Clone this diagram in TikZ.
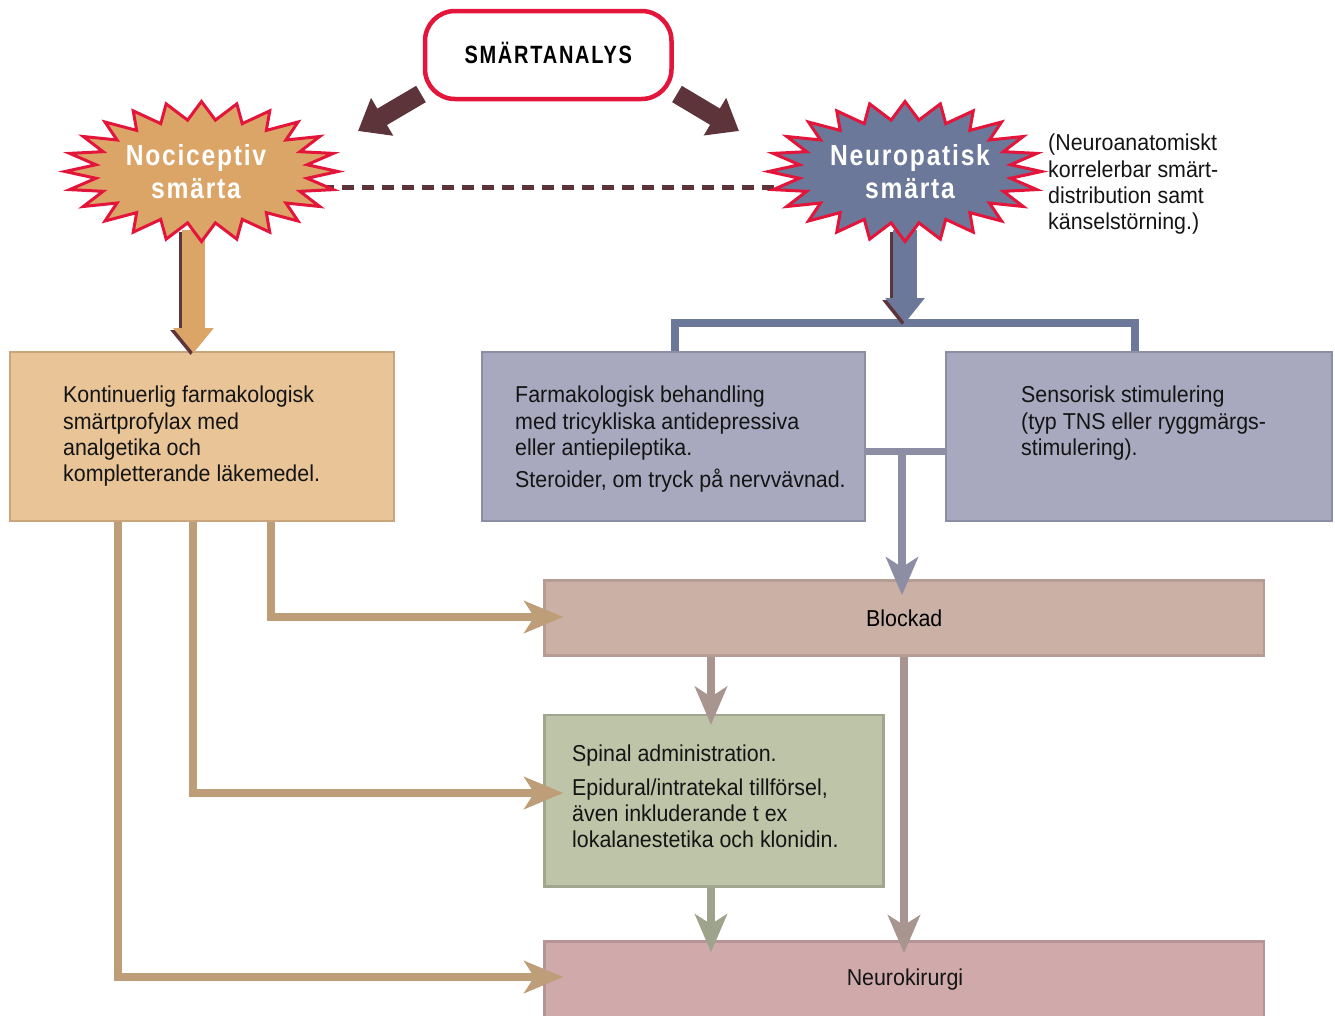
\documentclass[tikz,border=0pt]{standalone}
\usepackage{fontspec}
\setmainfont{Liberation Sans}[FakeStretch=0.93]
\newfontfamily\titlefont{Liberation Sans}[FakeStretch=0.8,LetterSpace=7]
\newfontfamily\starfont{Liberation Sans}[FakeStretch=0.85,LetterSpace=6]
\usetikzlibrary{arrows.meta,calc}
\definecolor{myred}{HTML}{E3153B}
\definecolor{darkbrown}{HTML}{5C343A}
\definecolor{nocifill}{HTML}{DCA568}
\definecolor{neurofill}{HTML}{6B7899}
\definecolor{orfill}{HTML}{E8C496}
\definecolor{ordraw}{HTML}{C9A57C}
\definecolor{blfill}{HTML}{A8A9BE}
\definecolor{bldraw}{HTML}{8C8EA6}
\definecolor{bkfill}{HTML}{CBB0A6}
\definecolor{bkdraw}{HTML}{B59D96}
\definecolor{spfill}{HTML}{BEC4A8}
\definecolor{spdraw}{HTML}{A2A68E}
\definecolor{nkfill}{HTML}{D0AAAA}
\definecolor{nkdraw}{HTML}{B59495}
\definecolor{orconn}{HTML}{BE9E78}
\definecolor{bkconn}{HTML}{A8958F}
\definecolor{spconn}{HTML}{9EA38B}
\definecolor{blconn}{HTML}{8D8EA3}
\newcommand\burstshape[5]{%
  \filldraw[fill=#5, draw=myred, line width=3pt, line join=miter]
    ({#1+#3},{#2}) \foreach \k in {1,...,47}{
      -- ({#1+#3*(1-0.22*mod(\k,2))*cos(\k*7.5)},{#2+#4*(1-0.26*mod(\k,2))*sin(\k*7.5)}) } -- cycle;}
\begin{document}
\begin{tikzpicture}[x=1pt,y=-1pt,
  boxstyle/.style={draw, line width=2.5pt, inner sep=0pt},
  bodytext/.style={font=\fontsize{23}{26.2}\selectfont, align=left, inner sep=0pt, text=black!92},
  startext/.style={font=\starfont\bfseries\fontsize{29}{33.5}\selectfont, align=center, inner sep=0pt, text=white, anchor=north},
  conn/.style={line width=7.5pt, -{Stealth[length=39pt,width=32pt,inset=10pt]}},
  vconn/.style={line width=8pt, -{Stealth[length=38pt,width=32pt,inset=10pt]}},
  fatarrow/.style={darkbrown, line width=19pt, -{Triangle[length=28pt,width=42pt]}}
]
\useasboundingbox (0,0) rectangle (1335,1015);

% boxes
\node[boxstyle, fill=orfill, draw=ordraw, minimum width=384pt, minimum height=169pt] (orange) at (202,436.5) {};
\node[boxstyle, fill=blfill, draw=bldraw, minimum width=383pt, minimum height=169pt] (blue1) at (673.5,436.5) {};
\node[boxstyle, fill=blfill, draw=bldraw, minimum width=386pt, minimum height=169pt] (blue2) at (1139,436.5) {};
\node[boxstyle, fill=bkfill, draw=bkdraw, minimum width=719.5pt, minimum height=75pt,
      font=\fontsize{23}{26.2}\selectfont, text height=16.5pt, text depth=0pt] (blockad) at (904.25,618) {Blockad};
\node[boxstyle, fill=spfill, draw=spdraw, minimum width=339pt, minimum height=171.5pt] (spinal) at (714,800.75) {};
\node[boxstyle, fill=nkfill, draw=nkdraw, minimum width=719.5pt, minimum height=93.5pt] (neurok) at (904.25,988.25) {};

% box texts
\node[bodytext, anchor=north west] (orT) at (63,386) {Kontinuerlig farmakologisk\\smärtprofylax med\\analgetika och\\kompletterande läkemedel.};
\node[bodytext, anchor=north west] (b1T) at (515,386) {Farmakologisk behandling\\med tricykliska antidepressiva\\eller antiepileptika.\\[6pt]Steroider, om tryck på nervvävnad.};
\node[bodytext, anchor=north west] (b2T) at (1021,386) {Sensorisk stimulering\\(typ TNS eller ryggmärgs-\\stimulering).};
\node[bodytext, anchor=north west] (spT) at (572,745) {Spinal administration.\\[7pt]Epidural/intratekal tillförsel,\\även inkluderande t ex\\lokalanestetika och klonidin.};
\node[bodytext, anchor=base] (nkT) at (905,985) {Neurokirurgi};
\node[bodytext, anchor=north west] (annot) at (1048,134) {(Neuroanatomiskt\\korrelerbar smärt-\\distribution samt\\känselstörning.)};

% orange connectors
\coordinate (oc1) at (271,0);
\coordinate (oc2) at (193,0);
\coordinate (oc3) at (118,0);
\draw[conn, orconn, shorten >=-20pt] (orange.south -| oc1) |- ([yshift=1pt]blockad.west);
\draw[conn, orconn, shorten >=-20pt] (orange.south -| oc2) |- ([yshift=7.75pt]spinal.west);
\draw[conn, orconn, shorten >=-20pt] (orange.south -| oc3) |- ([yshift=11.25pt]neurok.west);

% blue junction
\coordinate (jn) at (902,451);
\draw[blconn, line width=7pt] (jn -| blue1.east) -- (jn -| blue2.west);
\draw[vconn, blconn, shorten >=-16pt] (jn) -- (jn |- blockad.north);

% vertical arrows
\coordinate (vc1) at (711,0);
\coordinate (vc2) at (904,0);
\draw[vconn, bkconn, shorten >=-11pt] (blockad.south -| vc1) -- (spinal.north -| vc1);
\draw[vconn, spconn, shorten >=-12pt] (spinal.south -| vc1) -- (neurok.north -| vc1);
\draw[vconn, bkconn, shorten >=-13pt] (blockad.south -| vc2) -- (neurok.north -| vc2);

% blue bar
\coordinate (barL) at (675,323);
\coordinate (barR) at (1135,323);
\draw[neurofill, line width=8pt] (blue1.north -| barL) -- (barL) -- (barR) -- (blue2.north -| barR);

% star centres
\coordinate (nociC) at (201.5,171.5);
\coordinate (neuroC) at (905,171.5);

% dashed link
\draw[darkbrown, line width=5pt, dash pattern=on 12pt off 8pt] ([yshift=-15.5pt]nociC) -- ([yshift=-15.5pt]neuroC);

% star down arrows
\coordinate (nociS) at (193.5,230);
\coordinate (orN) at (193.5,353);
\coordinate (neuroS) at (905,230);
\coordinate (barN) at (905,323);
\draw[darkbrown, line width=23pt, -{Triangle[length=25pt,width=39pt]}, transform canvas={xshift=-3pt,yshift=-2pt}] (nociS) -- (orN);
\draw[nocifill, line width=23pt, -{Triangle[length=25pt,width=39pt]}] (nociS) -- (orN);
\draw[darkbrown, line width=24pt, -{Triangle[length=25pt,width=38pt]}, transform canvas={xshift=-3pt,yshift=-2pt}] (neuroS) -- (barN);
\draw[neurofill, line width=24pt, -{Triangle[length=25pt,width=38pt]}] (neuroS) -- (barN);

% stars
\burstshape{201.5}{171.5}{136.5}{70}{nocifill}
\burstshape{905}{171.5}{136.5}{70}{neurofill}
\node[startext] (noci) at (196,144) {Nociceptiv\\smärta};
\node[startext] (neuro) at (910,144) {Neuropatisk\\smärta};

% title
\node[draw=myred, line width=4.5pt, fill=white, rounded corners=30pt, minimum width=246.5pt, minimum height=88pt,
      inner sep=0pt, text height=17.5pt, text depth=0pt, font=\titlefont\bfseries\fontsize{25}{29}\selectfont] (title) at (548.25,55) {SMÄRTANALYS};

% fat arrows
\coordinate (tL) at (421,94);
\coordinate (sL) at (358,131);
\coordinate (tR) at (677,94);
\coordinate (sR) at (739,131);
\draw[fatarrow] (tL) -- (sL);
\draw[fatarrow] (tR) -- (sR);
\end{tikzpicture}
\end{document}
